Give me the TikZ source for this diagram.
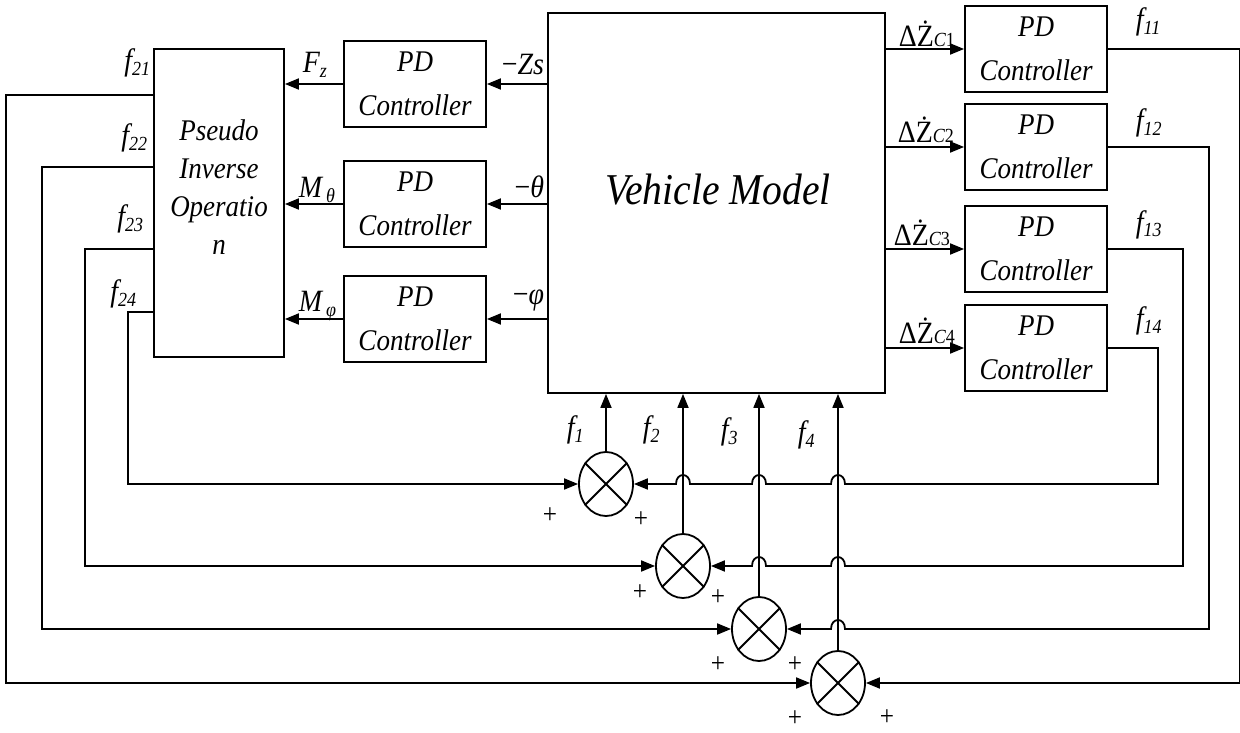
\documentclass[tikz,border=0pt]{standalone}
\usepackage{fontspec}
\setmainfont[FakeStretch=0.9]{Liberation Serif}
\usetikzlibrary{arrows.meta,positioning,shapes.geometric,calc}
\newcommand{\lowsub}[1]{\raisebox{-5pt}{\fontsize{20}{20}\selectfont #1}}
\newcommand{\smallsub}[1]{{\fontsize{20}{20}\selectfont #1}}

\begin{document}
\begin{tikzpicture}[
  x=1pt,y=-1pt,
  line width=1.8pt,
  pdbox/.style={draw,minimum width=142pt,minimum height=86pt,inner sep=0pt,
    align=center,font=\fontsize{30}{44}\selectfont\itshape},
  bigbox/.style={draw,inner sep=0pt},
  sumnode/.style={draw,ellipse,minimum width=54pt,minimum height=64pt,inner sep=0pt},
  lbl/.style={inner sep=0pt,font=\fontsize{31}{31}\selectfont\itshape},
  plussign/.style={inner sep=0pt,font=\fontsize{28}{28}\selectfont},
  arrow/.style={-{Triangle[length=14pt,width=11pt]}}
]
\useasboundingbox (0,0) rectangle (1240,733);

% blocks
\node[bigbox,minimum width=130pt,minimum height=308pt] (pseudo) at (219,203) {};
\node[align=center,font=\fontsize{30}{38}\selectfont\itshape] (pseudotxt) at (219,187) {Pseudo\\Inverse\\Operatio\\n};
\node[bigbox,minimum width=337pt,minimum height=380pt] (veh) at (716.5,203) {};
\node[font=\fontsize{44}{44}\selectfont\itshape] (vehtxt) at (718,190) {Vehicle Model};

\node[pdbox] (pdl1) at (415,84) {PD\\Controller};
\node[pdbox] (pdl2) at (415,204) {PD\\Controller};
\node[pdbox] (pdl3) at (415,319) {PD\\Controller};

\node[pdbox] (pdr1) at (1036,49) {PD\\Controller};
\node[pdbox] (pdr2) at (1036,147) {PD\\Controller};
\node[pdbox] (pdr3) at (1036,249) {PD\\Controller};
\node[pdbox] (pdr4) at (1036,348) {PD\\Controller};

% summing junctions
\foreach \n/\x/\y in {1/606/484,2/683/566,3/759/629,4/838/683}{
  \node[sumnode] (s\n) at (\x,\y) {};
  \draw (s\n.45) -- (s\n.225) (s\n.135) -- (s\n.315);
  \draw[arrow] (s\n.north) -- (s\n |- veh.south);
}

% attitude loops
\foreach \i in {1,2,3}{
  \draw[arrow] (veh.west |- pdl\i) -- (pdl\i.east);
  \draw[arrow] (pdl\i.west) -- (pseudo.east |- pdl\i);
}
\foreach \i in {1,...,4}
  \draw[arrow] (veh.east |- pdr\i) -- (pdr\i.west);

% feedback from pseudo inverse
\draw[arrow] ([yshift=108pt]pseudo.west) -- ++(-147,0) |- (s4.west);
\draw[arrow] ([yshift=36pt]pseudo.west) -- ++(-111,0) |- (s3.west);
\draw[arrow] ([yshift=-46pt]pseudo.west) -- ++(-68,0) |- (s2.west);
\draw[arrow] ([yshift=-109pt]pseudo.west) -- ++(-25,0) |- (s1.west);

% feedback from corner controllers (with hops)
\draw[arrow] (pdr1.east) -- ++(132,0) |- (s4.east);
\draw[arrow] (pdr2.east) -- ++(101,0) |- (845,629)
  .. controls (845,617) and (831,617) .. (831,629) -- (s3.east);
\draw[arrow] (pdr3.east) -- ++(75,0) |- (845,566)
  .. controls (845,554) and (831,554) .. (831,566) -- (766,566)
  .. controls (766,554) and (752,554) .. (752,566) -- (s2.east);
\draw[arrow] (pdr4.east) -- ++(50,0) |- (845,484)
  .. controls (845,472) and (831,472) .. (831,484) -- (766,484)
  .. controls (766,472) and (752,472) .. (752,484) -- (690,484)
  .. controls (690,472) and (676,472) .. (676,484) -- (s1.east);

% labels
\node[lbl,anchor=base east] (lf21) at (151,71) {f\lowsub{21}};
\node[lbl,anchor=base east] (lf22) at (148,146) {f\lowsub{22}};
\node[lbl,anchor=base east] (lf23) at (144,226) {f\lowsub{23}};
\node[lbl,anchor=base east] (lf24) at (137,301) {f\lowsub{24}};

\node[lbl,anchor=base west] (lf11) at (1135,30) {f\lowsub{11}};
\node[lbl,anchor=base west] (lf12) at (1135,131) {f\lowsub{12}};
\node[lbl,anchor=base west] (lf13) at (1135,232) {f\lowsub{13}};
\node[lbl,anchor=base west] (lf14) at (1135,328) {f\lowsub{14}};

\node[lbl,anchor=base west] (lf1) at (566,437) {f\lowsub{1}};
\node[lbl,anchor=base west] (lf2) at (642,437) {f\lowsub{2}};
\node[lbl,anchor=base west] (lf3) at (720,439) {f\lowsub{3}};
\node[lbl,anchor=base west] (lf4) at (797,442) {f\lowsub{4}};

\node[lbl,anchor=base west] (lfz) at (302,73) {F\lowsub{z}};
\node[lbl,anchor=base west] (lmt) at (298,197) {M\hspace{4pt}\lowsub{θ}};
\node[lbl,anchor=base west] (lmp) at (298,311) {M\hspace{4pt}\lowsub{φ}};

\node[lbl,anchor=base east] (lzs) at (545,75) {{\upshape −}Zs};
\node[lbl,anchor=base east] (lth) at (545,197) {{\upshape −}θ};
\node[lbl,anchor=base east] (lph) at (545,304) {{\upshape −}φ};

\node[lbl,anchor=base west] (ldz1) at (898,47) {{\upshape ΔŻ}\smallsub{C\upshape 1}};
\node[lbl,anchor=base west] (ldz2) at (897,143) {{\upshape ΔŻ}\smallsub{C\upshape 2}};
\node[lbl,anchor=base west] (ldz3) at (893,245) {{\upshape ΔŻ}\smallsub{C\upshape 3}};
\node[lbl,anchor=base west] (ldz4) at (898,343) {{\upshape ΔŻ}\smallsub{C\upshape 4}};

\foreach \x/\y [count=\k] in {550/516,641/520,640/593,718/598,718/665,795/665,795/719,887/718}
  \node[plussign] (p\k) at (\x,\y) {+};
\end{tikzpicture}
\end{document}
